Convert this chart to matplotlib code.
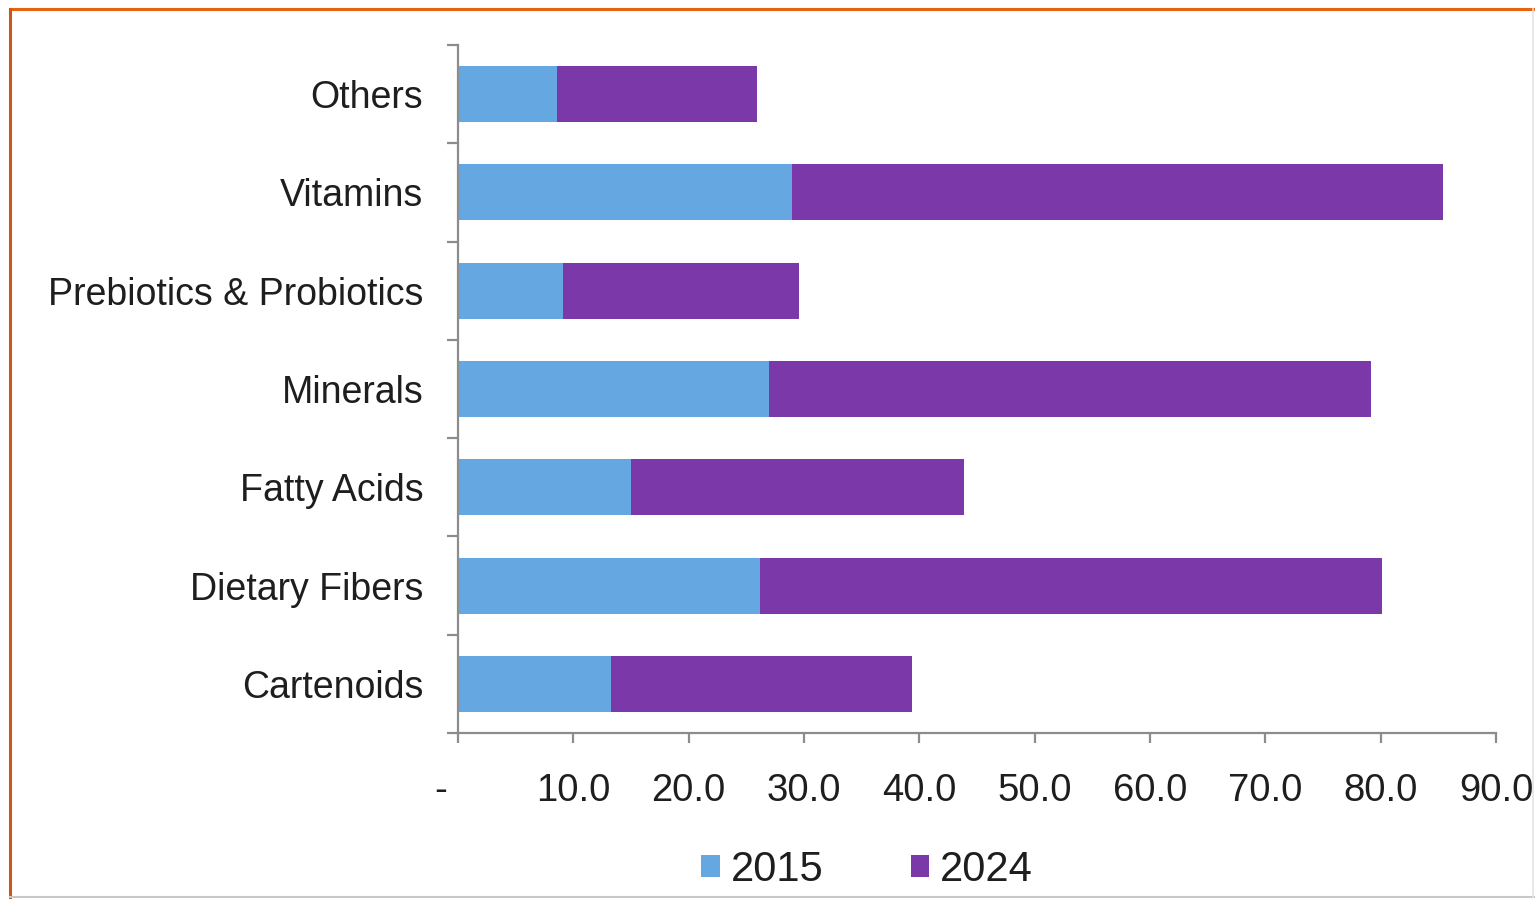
import matplotlib
matplotlib.use("Agg")
import matplotlib.pyplot as plt
import matplotlib.transforms as mtransforms
from matplotlib.patches import Patch
from matplotlib.lines import Line2D

# Market value by ingredient type (2015 vs 2024), stacked
categories = ["Cartenoids", "Dietary Fibers", "Fatty Acids", "Minerals",
              "Prebiotics & Probiotics", "Vitamins", "Others"]
values_2015 = [13.3, 26.2, 15.0, 27.0, 9.1, 29.0, 8.6]
values_2024 = [26.1, 53.9, 28.9, 52.2, 20.5, 56.4, 17.3]
series_names = ["2015", "2024"]
x_ticks = [0, 10, 20, 30, 40, 50, 60, 70, 80, 90]
x_tick_labels = ["-", "10.0", "20.0", "30.0", "40.0", "50.0", "60.0", "70.0", "80.0", "90.0"]

COLOR_2015 = "#65A7E1"
COLOR_2024 = "#7B38A8"
AXIS_GRAY = "#8C8C8C"
TEXT = "#1E1E1E"

plt.rcParams["font.family"] = ["Liberation Sans", "DejaVu Sans"]

W, H = 1535, 899
fig = plt.figure(figsize=(W / 100, H / 100), dpi=100)
fig.patch.set_facecolor("white")

ax = fig.add_axes([458 / W, 1 - 733 / H, (1496 - 458) / W, (733 - 45) / H])

y = list(range(len(categories)))
ax.barh(y, values_2015, height=0.57, color=COLOR_2015, label=series_names[0])
ax.barh(y, values_2024, left=values_2015, height=0.57, color=COLOR_2024,
        label=series_names[1])

ax.set_xlim(0, 90)
ax.set_ylim(-0.5, len(categories) - 0.5)

for side in ("top", "right"):
    ax.spines[side].set_visible(False)
for side in ("left", "bottom"):
    ax.spines[side].set_color(AXIS_GRAY)
    ax.spines[side].set_linewidth(1.6)

# x axis ticks
ax.set_xticks(x_ticks)
ax.set_xticklabels(x_tick_labels, fontsize=27.5, color=TEXT)
ax.tick_params(axis="x", direction="out", length=7.5, width=1.6,
               colors=AXIS_GRAY, labelcolor=TEXT, pad=21)
# shift the zero label to the left like an accounting dash
zero_lbl = ax.get_xticklabels()[0]
zero_lbl.set_transform(zero_lbl.get_transform() +
                       mtransforms.ScaledTranslation(-17 / 100, 0, fig.dpi_scale_trans))

# y axis: tick marks at category boundaries, labels at centres
boundaries = [i - 0.5 for i in range(len(categories) + 1)]
ax.set_yticks(boundaries)
ax.set_yticklabels([])
ax.tick_params(axis="y", which="major", direction="out", length=8, width=1.6,
               colors=AXIS_GRAY)
ax.set_yticks(y, minor=True)
ax.set_yticklabels(categories, minor=True, fontsize=27, color=TEXT)
ax.tick_params(axis="y", which="minor", length=0, pad=25, labelcolor=TEXT)

handles = [Patch(facecolor=COLOR_2015, edgecolor="none"),
           Patch(facecolor=COLOR_2024, edgecolor="none")]
fig.legend(handles, series_names, loc="center", bbox_to_anchor=(867 / W, 1 - 870 / H),
           ncol=2, frameon=False, fontsize=30, handlelength=0.45, handleheight=0.45,
           handletextpad=0.25, columnspacing=2.1, labelcolor=TEXT)

# outer frame: orange top/left, grey bottom/right
fig.add_artist(Line2D([10 / W, 1.0], [1 - 9 / H, 1 - 9 / H], color="#E8630F",
                      linewidth=2.2, transform=fig.transFigure))
fig.add_artist(Line2D([10 / W, 10 / W], [1 - 9 / H, 0.0], color="#C8581A",
                      linewidth=2.2, transform=fig.transFigure))
fig.add_artist(Line2D([10 / W, 1.0], [1 - 897 / H, 1 - 897 / H], color="#C8C8C8",
                      linewidth=1.5, transform=fig.transFigure))
fig.add_artist(Line2D([1533 / W, 1533 / W], [1 - 9 / H, 1 - 897 / H], color="#E4E4E4",
                      linewidth=1.2, transform=fig.transFigure))

fig.savefig("out.png", dpi=100, facecolor="white")
